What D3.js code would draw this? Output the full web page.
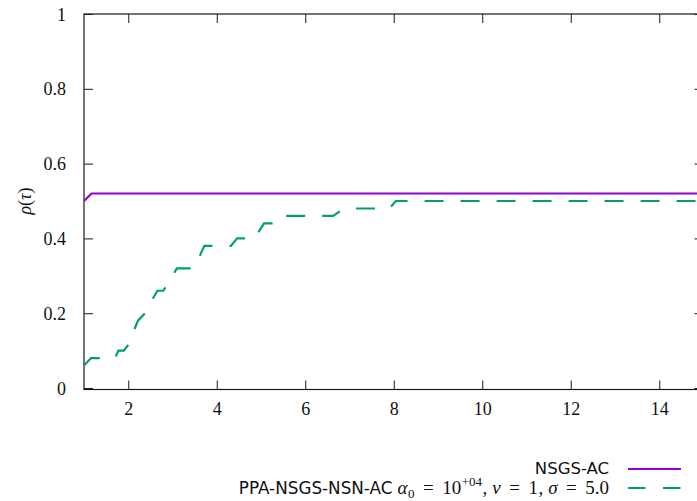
<!DOCTYPE html>
<html>
<head>
<meta charset="utf-8">
<script src="https://cdn.jsdelivr.net/npm/d3@7"></script>
<style>
  html, body { margin: 0; padding: 0; background: #fff; }
  svg { display: block; }
  .serif { font-family: "Liberation Serif", "DejaVu Serif", serif; }
  .sans { font-family: "DejaVu Sans", sans-serif; }
</style>
</head>
<body>
<svg id="chart" width="697" height="501"></svg>
<script>
// ---- data ----
const xTicks = [2, 4, 6, 8, 10, 12, 14];
const yTicks = [0, 0.2, 0.4, 0.6, 0.8, 1];
const yTickLabels = ["0", "0.2", "0.4", "0.6", "0.8", "1"];

const nsgsTau = [1.0, 1.17, 15.0];
const nsgsRho = [0.50, 0.52, 0.52];

const ppaTau = [1.0, 1.16, 1.70, 1.78, 1.90, 2.03, 2.09, 2.15, 2.22, 2.38, 2.48, 2.56, 2.66, 2.79, 2.90, 3.00, 3.10, 3.48, 3.58, 3.64, 3.72, 4.32, 4.46, 4.86, 4.96, 5.07, 5.40, 5.55, 6.63, 6.88, 7.90, 8.05, 15.0];
const ppaRho = [0.06, 0.08, 0.08, 0.10, 0.10, 0.12, 0.14, 0.16, 0.18, 0.20, 0.22, 0.24, 0.26, 0.26, 0.28, 0.30, 0.32, 0.32, 0.34, 0.36, 0.38, 0.38, 0.40, 0.40, 0.42, 0.44, 0.44, 0.46, 0.46, 0.48, 0.48, 0.50, 0.50];

const seriesNames = ["NSGS-AC", "PPA-NSGS-NSN-AC"];

// ---- layout ----
const svg = d3.select("#chart");
const mLeft = 84, mRight = 703.5, mTop = 14, mBottom = 389.5;
const x = d3.scaleLinear().domain([1, 15]).range([mLeft, mRight]);
const y = d3.scaleLinear().domain([-0.004, 1]).range([mBottom, mTop]);

const axisColor = "#1a1a1a";
const g = svg.append("g");

// border
g.append("rect")
  .attr("x", mLeft).attr("y", mTop)
  .attr("width", mRight - mLeft).attr("height", mBottom - mTop)
  .attr("fill", "none").attr("stroke", axisColor).attr("stroke-width", 1.2);

// x axis (bottom) with labels
const xAxis = d3.axisBottom(x).tickValues(xTicks).tickSize(-9).tickPadding(0).tickFormat(d3.format("d"));
const xg = g.append("g").attr("transform", `translate(0,${mBottom})`).call(xAxis);
xg.attr("font-family", null).attr("font-size", null);
xg.select(".domain").remove();
xg.selectAll(".tick line").attr("stroke", axisColor);
xg.selectAll(".tick text").attr("y", 25).attr("dy", 0).attr("class", "serif")
  .style("font-size", "18px").attr("fill", "#111");

// x axis mirrored ticks on top
const xgt = g.append("g").attr("transform", `translate(0,${mTop})`)
  .call(d3.axisTop(x).tickValues(xTicks).tickSize(-9).tickFormat(""));
xgt.select(".domain").remove();
xgt.selectAll(".tick line").attr("stroke", axisColor);

// y axis (left)
const yAxis = d3.axisLeft(y).tickValues(yTicks).tickSize(-9).tickPadding(18)
  .tickFormat((d, i) => yTickLabels[i]);
const yg = g.append("g").attr("transform", `translate(${mLeft},0)`).call(yAxis);
yg.attr("font-family", null).attr("font-size", null);
yg.select(".domain").remove();
yg.selectAll(".tick line").attr("stroke", axisColor);
yg.selectAll(".tick text").attr("class", "serif").style("font-size", "18px").attr("fill", "#111")
  .attr("dy", "0.34em");

// y axis mirrored on right
const ygr = g.append("g").attr("transform", `translate(${mRight},0)`)
  .call(d3.axisRight(y).tickValues(yTicks).tickSize(-9).tickFormat(""));
ygr.select(".domain").remove();
ygr.selectAll(".tick line").attr("stroke", axisColor);

// y label
const yl = g.append("text")
  .attr("transform", "translate(31,201) rotate(-90)")
  .attr("text-anchor", "middle").attr("class", "serif")
  .style("font-size", "18px").attr("fill", "#111");
yl.append("tspan").style("font-style", "italic").text("ρ");
yl.append("tspan").text("(");
yl.append("tspan").style("font-style", "italic").text("τ");
yl.append("tspan").text(")");

// lines
const line = d3.line().x(d => x(d[0])).y(d => y(d[1]));
const nsgsData = nsgsTau.map((t, i) => [t, nsgsRho[i]]);
const ppaData = ppaTau.map((t, i) => [t, ppaRho[i]]);

svg.append("clipPath").attr("id", "clip")
  .append("rect").attr("x", mLeft).attr("y", mTop - 2).attr("width", mRight - mLeft).attr("height", mBottom - mTop + 4);

g.append("path").datum(nsgsData)
  .attr("clip-path", "url(#clip)")
  .attr("d", line).attr("fill", "none")
  .attr("stroke", "#9400d3").attr("stroke-width", 2.2);

g.append("path").datum(ppaData)
  .attr("clip-path", "url(#clip)")
  .attr("d", line).attr("fill", "none")
  .attr("stroke", "#009e73").attr("stroke-width", 2.2)
  .attr("stroke-dasharray", "19,17");

// legend
const legX = 609, legLineX1 = 628, legLineX2 = 681;
const l1y = 469, l2y = 488;

g.append("text").attr("x", legX).attr("y", l1y + 5).attr("text-anchor", "end")
  .attr("class", "sans").style("font-size", "16.5px").attr("fill", "#111").text(seriesNames[0]);
g.append("line").attr("x1", legLineX1).attr("x2", legLineX2).attr("y1", l1y).attr("y2", l1y)
  .attr("stroke", "#9400d3").attr("stroke-width", 2.2);

const base2 = l2y + 6;
// math part of the legend, LaTeX-like spacing, laid out right-to-left from the legend edge
const mathParts = [
  {t: "α", it: true, fs: 19, gap: 0, dy: 0},
  {t: "0", fs: 13, gap: 0.5, dy: 4},
  {t: "=", fs: 19, gap: 8.5, dy: 0},
  {t: "10", fs: 19, gap: 8.5, dy: 0},
  {t: "+04", fs: 13, gap: 0.5, dy: -8},
  {t: ",", fs: 19, gap: 0.5, dy: 0},
  {t: "ν", it: true, fs: 19, gap: 5, dy: 0},
  {t: "=", fs: 19, gap: 8.5, dy: 0},
  {t: "1", fs: 19, gap: 8.5, dy: 0},
  {t: ",", fs: 19, gap: 0.5, dy: 0},
  {t: "σ", it: true, fs: 19, gap: 5, dy: 0},
  {t: "=", fs: 19, gap: 8.5, dy: 0},
  {t: "5.0", fs: 19, gap: 8.5, dy: 0}
];
// each piece is its own text element, placed by measured widths
const mathG = g.append("g");
const pieces = mathG.selectAll("text").data(mathParts).join("text")
  .attr("class", "serif").attr("y", d => base2 + d.dy).attr("fill", "#111")
  .style("font-size", d => d.fs + "px")
  .style("font-style", d => d.it ? "italic" : "normal")
  .text(d => d.t);
const widths = pieces.nodes().map(n => n.getComputedTextLength());
let total = 0;
mathParts.forEach((d, i) => { total += d.gap + widths[i]; });
let cx = legX - total;
const mathStart = cx;
pieces.attr("x", (d, i) => { cx += d.gap; const px = cx; cx += widths[i]; return px; });

g.append("text").attr("x", mathStart - 5).attr("y", base2).attr("text-anchor", "end")
  .attr("class", "sans").style("font-size", "16.8px").attr("fill", "#111").text(seriesNames[1]);

g.append("line").attr("x1", legLineX1).attr("x2", legLineX2).attr("y1", l2y).attr("y2", l2y)
  .attr("stroke", "#009e73").attr("stroke-width", 2.2)
  .attr("stroke-dasharray", "17.5,17.5");
</script>
</body>
</html>
